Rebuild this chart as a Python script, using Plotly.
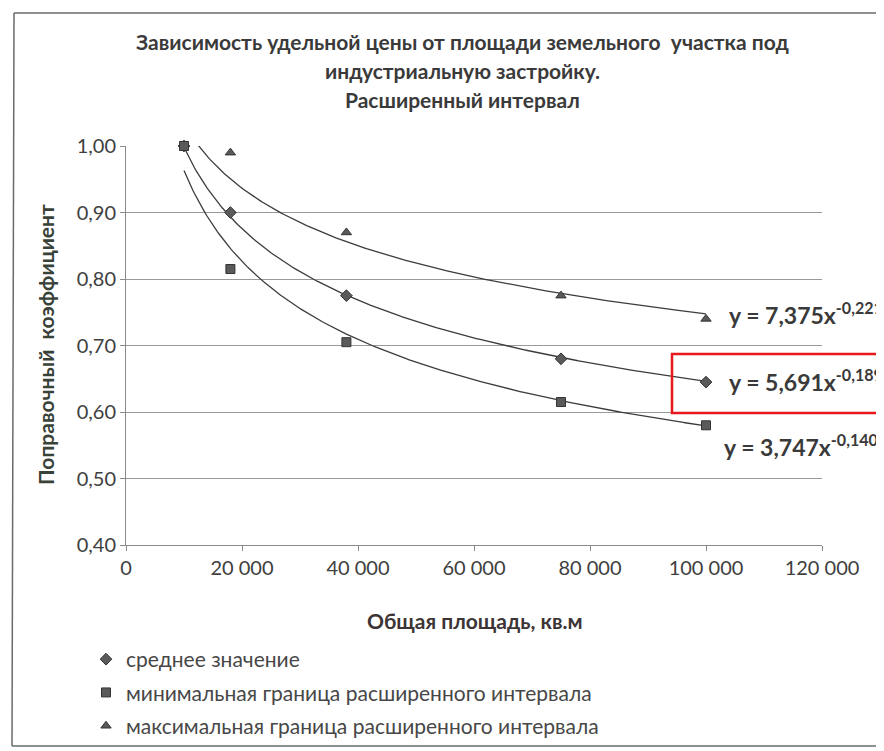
import numpy as np
import plotly.graph_objects as go

# ---- data ----
area = [10000, 18000, 38000, 75000, 100000]
mean_vals = [1.00, 0.90, 0.775, 0.68, 0.645]
min_vals = [1.00, 0.815, 0.705, 0.615, 0.58]
max_area = [18000, 38000, 75000, 100000]
max_vals = [0.99, 0.87, 0.775, 0.74]

series_names = ["среднее значение",
                "минимальная граница расширенного интервала",
                "максимальная граница расширенного интервала"]

# power trendlines (coefficients as printed on the chart)
trend_mean = (5.691, -0.189)
trend_min = (7.375, -0.221)
trend_max = (3.747, -0.140)
eq_labels = ["y = 7,375x<sup>-0,221</sup>",
             "y = 5,691x<sup>-0,189</sup>",
             "y = 3,747x<sup>-0,140</sup>"]

title_lines = ["Зависимость удельной цены от площади земельного  участка под",
               "индустриальную застройку.",
               "Расширенный интервал"]
x_title = "Общая площадь, кв.м"
y_title = "Поправочный  коэффициент"

FONT = "Lato"
TXT = "#3a3a3a"
MK = "#5a5a5a"

fig = go.Figure()

xs = np.linspace(min(area), max(area), 300)
for (a, b) in (trend_mean, trend_min, trend_max):
    fig.add_trace(go.Scatter(x=xs, y=a * xs ** b, mode="lines",
                             line=dict(color="#3c3c3c", width=1.3),
                             showlegend=False, hoverinfo="skip"))

fig.add_trace(go.Scatter(x=area, y=mean_vals, mode="markers", name=series_names[0],
                         legendgroup="a", cliponaxis=False,
                         marker=dict(symbol="diamond", size=9, color=MK,
                                     line=dict(color="#333", width=1))))
fig.add_trace(go.Scatter(x=area, y=min_vals, mode="markers", name=series_names[1],
                         legendgroup="b", cliponaxis=False,
                         marker=dict(symbol="square", size=9, color=MK,
                                     line=dict(color="#333", width=1))))
fig.add_trace(go.Scatter(x=max_area, y=max_vals, mode="markers", name=series_names[2],
                         legendgroup="c", cliponaxis=False,
                         marker=dict(symbol="triangle-up", size=9, color=MK,
                                     line=dict(color="#333", width=1))))

OFF = 8  # page body offset
W, H = 884 - OFF, 751 - OFF
PL, PT = 126 - OFF, 146 - OFF
PR = W - (822 - OFF)
PB = H - (545 - OFF)
PW, PH = W - PL - PR, H - PT - PB


def px_x(p):
    return (p - OFF - PL) / PW


def px_y(p):
    return (H - PB - (p - OFF)) / PH


annotations = []
for line, yy in zip(title_lines, [41, 71, 100]):
    annotations.append(dict(text=f"<b>{line}</b>", xref="paper", yref="paper",
                            x=px_x(462), y=px_y(yy), xanchor="center", yanchor="middle",
                            showarrow=False, font=dict(family=FONT, size=21, color=TXT)))
annotations.append(dict(text=f"<b>{x_title}</b>", xref="paper", yref="paper",
                        x=px_x(475), y=px_y(620), xanchor="center", yanchor="middle",
                        showarrow=False, font=dict(family=FONT, size=21, color="#3d3436")))
annotations.append(dict(text=f"<b>{y_title}</b>", xref="paper", yref="paper",
                        x=px_x(45), y=px_y(345), xanchor="center", yanchor="middle",
                        textangle=-90, showarrow=False,
                        font=dict(family=FONT, size=21, color="#384238")))
for lab, xx, yy in zip(eq_labels, [727, 727, 722], [313, 380, 445]):
    annotations.append(dict(text=f"<b>{lab}</b>", xref="paper", yref="paper",
                            x=px_x(xx), y=px_y(yy), xanchor="left", yanchor="middle",
                            showarrow=False, font=dict(family=FONT, size=23, color=TXT)))

BORDER = dict(color="#6a6a6a", width=1.5)
shapes = [
    # chart frame (top, left, bottom edges as seen in the scan)
    dict(type="line", xref="paper", yref="paper",
         x0=px_x(14), x1=px_x(884), y0=px_y(13), y1=px_y(13), line=BORDER),
    dict(type="line", xref="paper", yref="paper",
         x0=px_x(14), x1=px_x(12), y0=px_y(13), y1=px_y(746), line=BORDER),
    dict(type="line", xref="paper", yref="paper",
         x0=px_x(12), x1=px_x(884), y0=px_y(746), y1=px_y(746), line=BORDER),
    # red highlight box
    dict(type="rect", xref="paper", yref="paper",
         x0=px_x(672), x1=px_x(883), y0=px_y(413), y1=px_y(354),
         line=dict(color="#e8171c", width=2.5), fillcolor="rgba(0,0,0,0)"),
]

fig.update_layout(
    width=W, height=H,
    margin=dict(l=PL, r=PR, t=PT, b=PB, autoexpand=False),
    paper_bgcolor="white", plot_bgcolor="white",
    separators=", ",
    font=dict(family=FONT, color=TXT),
    annotations=annotations, shapes=shapes,
    legend=dict(xref="container", yref="container", x=(86 - OFF) / W,
                y=1 - (639 - OFF) / H,
                xanchor="left", yanchor="top", orientation="v",
                tracegroupgap=3, font=dict(family=FONT, size=21, color="#474747"),
                bgcolor="rgba(0,0,0,0)"),
    xaxis=dict(range=[0, 120000], dtick=20000, tickformat=",d", tickangle=0,
               showgrid=False, zeroline=False, showline=True, linecolor="#8a8a8a",
               ticks="outside", ticklen=5, tickcolor="#8a8a8a", automargin=False,
               tickfont=dict(family=FONT, size=20, color="#404040")),
    yaxis=dict(range=[0.4, 1.0], dtick=0.1, tickformat=".2f",
               showgrid=True, gridcolor="#9a9a9a", gridwidth=1, zeroline=False,
               showline=True, linecolor="#8a8a8a", automargin=False,
               ticks="outside", ticklen=5, tickcolor="#8a8a8a",
               tickfont=dict(family=FONT, size=20, color="#404040")),
)

fig.write_html("out.html")
